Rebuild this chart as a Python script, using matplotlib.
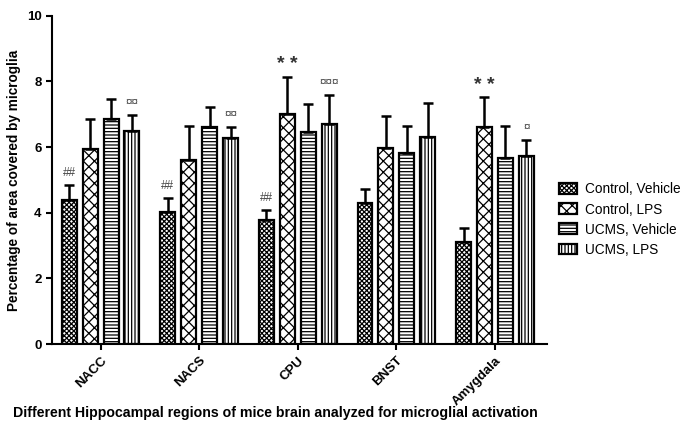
import numpy as np
import matplotlib
matplotlib.use('Agg')
import matplotlib.pyplot as plt

regions = ['NACC', 'NACS', 'CPU', 'BNST', 'Amygdala']
groups = ['Control, Vehicle', 'Control, LPS', 'UCMS, Vehicle', 'UCMS, LPS']

ctrl_vehicle = [4.39, 4.01, 3.77, 4.31, 3.11]
ctrl_vehicle_err = [0.45, 0.43, 0.32, 0.41, 0.43]
ctrl_lps = [5.95, 5.61, 7.0, 5.98, 6.62]
ctrl_lps_err = [0.91, 1.02, 1.15, 0.96, 0.90]
ucms_vehicle = [6.85, 6.62, 6.46, 5.81, 5.68]
ucms_vehicle_err = [0.61, 0.61, 0.84, 0.84, 0.95]
ucms_lps = [6.50, 6.27, 6.72, 6.30, 5.74]
ucms_lps_err = [0.48, 0.34, 0.86, 1.04, 0.48]

# significance marks per group / region
marks = [
    ['##', '##', '##', '', ''],
    ['', '', '**', '', '**'],
    ['', '', '', '', ''],
    ['\u00a4\u00a4', '\u00a4\u00a4', '\u00a4\u00a4\u00a4', '', '\u00a4'],
]

values = [ctrl_vehicle, ctrl_lps, ucms_vehicle, ucms_lps]
errors = [ctrl_vehicle_err, ctrl_lps_err, ucms_vehicle_err, ucms_lps_err]
hatches = ['xxxxxxx', 'xxx', '-----', '|||||']

plt.rcParams['font.family'] = ['Liberation Sans', 'DejaVu Sans']
plt.rcParams['hatch.linewidth'] = 0.9

fig = plt.figure(figsize=(7, 4.28), dpi=100)
ax = fig.add_axes([0.074, 0.196, 0.707, 0.767])

x = np.arange(len(regions))
pitch = 0.212
width = 0.152

for i in range(4):
    pos = x + (i - 1.5) * pitch
    ax.bar(pos, values[i], width, color='white', edgecolor='black',
           linewidth=1.6, hatch=hatches[i], label=groups[i], zorder=2)
    ax.errorbar(pos, values[i], yerr=[np.zeros(5), errors[i]], fmt='none',
                ecolor='black', elinewidth=1.8, capsize=3.5, capthick=1.8, zorder=3)
    for j in range(5):
        if marks[i][j]:
            top = values[i][j] + errors[i][j]
            if '*' in marks[i][j]:
                ax.text(pos[j], top + 0.1, '* *', ha='center', va='bottom',
                        fontsize=14, fontweight='bold', color='#333333')
            else:
                ax.text(pos[j], top + 0.18, marks[i][j], ha='center', va='bottom',
                        fontsize=8.5, color='#444444')

ax.set_xlim(-0.495, 4.525)
ax.set_ylim(0, 10)
ax.set_yticks([0, 2, 4, 6, 8, 10])
ax.set_xticks(x)
ax.set_xticklabels(regions, rotation=45, ha='right', rotation_mode='anchor',
                   fontsize=9.5, fontweight='bold')
for lab in ax.get_yticklabels():
    lab.set_fontweight('bold')
    lab.set_fontsize(9.5)
ax.spines['top'].set_visible(False)
ax.spines['right'].set_visible(False)
ax.spines['left'].set_linewidth(1.5)
ax.spines['bottom'].set_linewidth(1.5)
ax.tick_params(width=1.5, length=4)

ax.set_ylabel('Percentage of area covered by microglia', fontsize=9.8, fontweight='bold')
fig.text(0.018, 0.025, 'Different Hippocampal regions of mice brain analyzed for microglial activation',
         fontsize=10.2, fontweight='bold')

leg = ax.legend(loc='upper left', bbox_to_anchor=(1.0, 0.53), frameon=False,
                fontsize=9.8, handlelength=1.3, handleheight=0.85, labelspacing=0.45,
                handletextpad=0.6)

plt.savefig('out.png', dpi=100)
